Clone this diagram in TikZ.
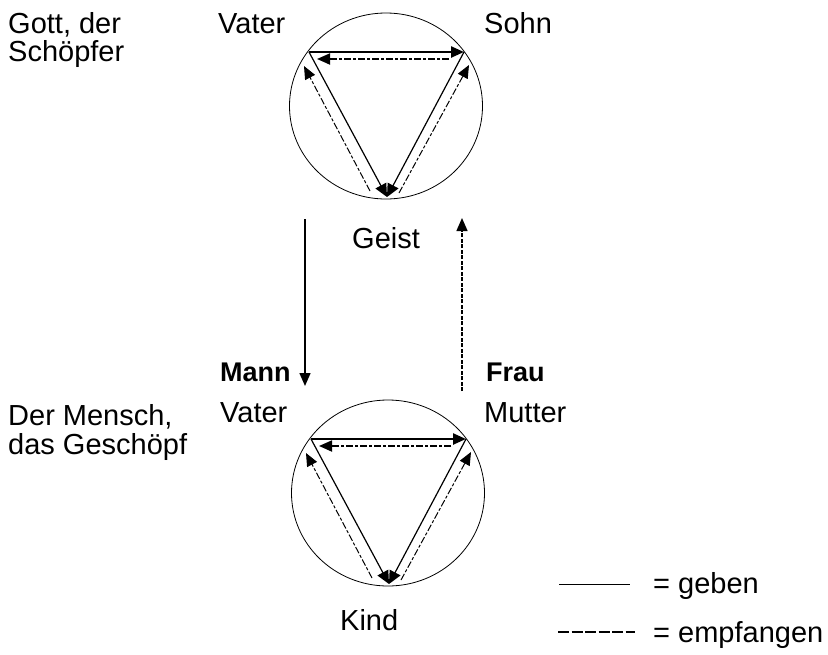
\documentclass[tikz,border=0pt]{standalone}
\usepackage{fontspec}
\setmainfont{Liberation Sans}
\usetikzlibrary{arrows.meta}
\begin{document}
\begin{tikzpicture}[x=1pt,y=-1pt,
  lbl/.style={anchor=base west,inner sep=0pt,font=\fontsize{29}{31}\selectfont},
  blbl/.style={lbl,font=\fontsize{27}{31}\selectfont\bfseries},
  ring/.style={line width=0.8pt},
  give/.style={line width=1.2pt,-{Triangle[length=13pt,width=12pt]}},
  givethick/.style={line width=2.4pt,-{Triangle[length=13pt,width=11pt]}},
  recv/.style={line width=1pt,dash pattern=on 7pt off 2pt on 3pt off 2pt,-{Triangle[length=13pt,width=11pt]}},
  recvthick/.style={line width=1.8pt,dash pattern=on 7pt off 2pt on 3pt off 2pt,-{Triangle[length=13pt,width=11pt]}},
  trinity/.pic={
    \draw[ring] (0,0) ellipse [x radius=96.5, y radius=93];
    \coordinate (-V) at (-77,-54);
    \coordinate (-S) at (78,-54);
    \coordinate (-G) at (1,91);
    \coordinate (-ts) at (63,-47);
    \coordinate (-te) at (-69,-47);
    \coordinate (-ls) at (-16,85);
    \coordinate (-le) at (-82,-40);
    \coordinate (-rs) at (13,87);
    \coordinate (-re) at (83,-41);
    \draw[givethick] (-V) -- (-S);
    \draw[recvthick] (-ts) -- (-te);
    \draw[give] (-V) -- (-G);
    \draw[give] (-S) -- (-G);
    \draw[recv] (-ls) -- (-le);
    \draw[recv] (-rs) -- (-re);
  }]
\useasboundingbox (0,0) rectangle (828,654);

\pic (top) at (386,106) {trinity};
\pic (bot) at (388,493) {trinity};

\node[lbl] (gott1) at (8,33) {Gott, der};
\node[lbl] (gott2) at (8,61) {Schöpfer};
\node[lbl] (vater1) at (218,33) {Vater};
\node[lbl] (sohn) at (484,33) {Sohn};
\node[lbl] (geist) at (352,248) {Geist};

\node[blbl] (mann) at (220,381) {Mann};
\node[blbl] (frau) at (486,381) {Frau};
\node[lbl] (vater2) at (220,422) {Vater};
\node[lbl] (mutter) at (484,422) {Mutter};
\node[lbl] (mensch1) at (8,425) {Der Mensch,};
\node[lbl] (mensch2) at (8,454) {das Geschöpf};
\node[lbl] (kind) at (340,630) {Kind};

\coordinate (dA) at (305,219);
\coordinate (dB) at (305,386);
\coordinate (uA) at (462,391);
\coordinate (uB) at (462,218);
\draw[line width=1.4pt,-{Triangle[length=13pt,width=11pt]}] (dA) -- (dB);
\draw[line width=1.4pt,dash pattern=on 4pt off 1.5pt,-{Triangle[length=13pt,width=11pt]}] (uA) -- (uB);

\coordinate (g1) at (559,584);
\coordinate (g2) at (630,584);
\coordinate (e1) at (558,632);
\coordinate (e2) at (635,632);
\draw[line width=0.8pt] (g1) -- (g2);
\draw[line width=1.3pt,dash pattern=on 11pt off 2.5pt] (e1) -- (e2);
\node[lbl] (geben) at (653,593) {= geben};
\node[lbl] (empf) at (653,642) {= empfangen};
\end{tikzpicture}
\end{document}
